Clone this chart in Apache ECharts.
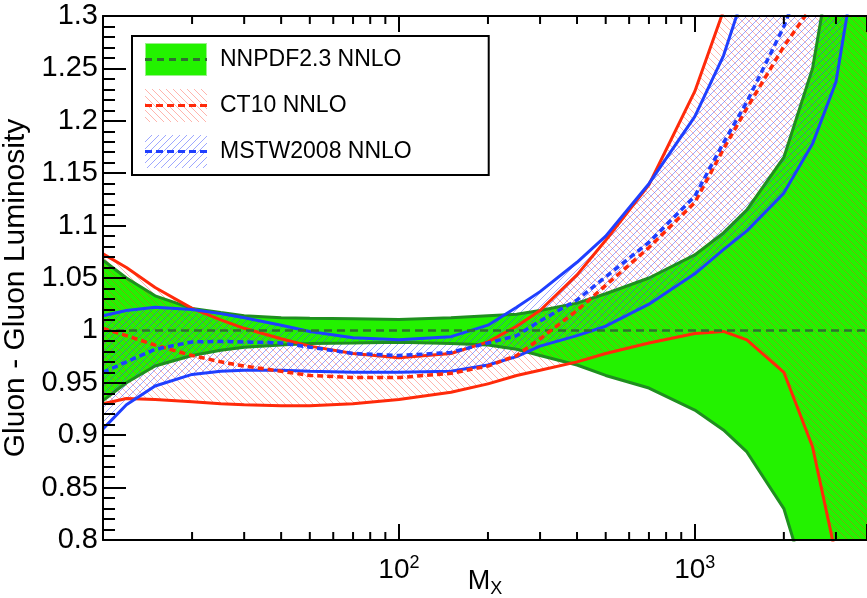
<!DOCTYPE html>
<html>
<head>
<meta charset="utf-8">
<script src="https://cdn.jsdelivr.net/npm/echarts@6/dist/echarts.min.js"></script>
<style>
html, body { margin: 0; padding: 0; background: #fff; }
#chart { width: 867px; height: 598px; }
</style>
</head>
<body>
<div id="chart"></div>
<script>
// M_X grid (GeV), shared by every curve
var mass = [10, 12, 15, 20, 25, 30, 40, 50, 70, 100, 150, 200, 250, 300, 400, 500, 700, 1000, 1250, 1500, 2000, 2500, 3000, 4000];

// NNPDF2.3 NNLO (reference, central = 1)
var nnpdfCentral = [1, 1, 1, 1, 1, 1, 1, 1, 1, 1, 1, 1, 1, 1, 1, 1, 1, 1, 1, 1, 1, 1, 1, 1];
var nnpdfHigh = [1.067, 1.050, 1.033, 1.021, 1.017, 1.014, 1.012, 1.0115, 1.011, 1.0105, 1.012, 1.014, 1.0155, 1.019, 1.026, 1.035, 1.050, 1.072, 1.093, 1.115, 1.165, 1.25, 1.38, 1.6];
var nnpdfLow = [0.933, 0.950, 0.966, 0.976, 0.981, 0.984, 0.986, 0.9875, 0.988, 0.9886, 0.9875, 0.986, 0.982, 0.976, 0.967, 0.957, 0.945, 0.924, 0.905, 0.884, 0.830, 0.74, 0.6, 0.4];

// CT10 NNLO
var ct10Central = [1.002, 0.995, 0.986, 0.976, 0.970, 0.966, 0.961, 0.957, 0.955, 0.955, 0.959, 0.966, 0.976, 0.992, 1.019, 1.043, 1.079, 1.122, 1.173, 1.212, 1.271, 1.31, 1.36, 1.45];
var ct10High = [1.073, 1.060, 1.041, 1.021, 1.010, 1.002, 0.992, 0.985, 0.978, 0.974, 0.978, 0.989, 1.004, 1.019, 1.053, 1.086, 1.139, 1.228, 1.305, 1.44, 1.7, 2.0, 2.3, 3.0];
var ct10Low = [0.930, 0.935, 0.934, 0.932, 0.930, 0.929, 0.928, 0.928, 0.930, 0.934, 0.941, 0.949, 0.957, 0.962, 0.970, 0.978, 0.988, 0.997, 0.999, 0.991, 0.960, 0.889, 0.785, 0.5];

// MSTW2008 NNLO
var mstwCentral = [0.960, 0.970, 0.982, 0.989, 0.9895, 0.989, 0.988, 0.984, 0.978, 0.976, 0.979, 0.988, 0.995, 1.009, 1.029, 1.051, 1.084, 1.128, 1.179, 1.218, 1.29, 1.36, 1.42, 1.55];
var mstwHigh = [1.014, 1.019, 1.022, 1.020, 1.016, 1.012, 1.005, 0.999, 0.993, 0.991, 0.994, 1.005, 1.022, 1.037, 1.065, 1.090, 1.140, 1.204, 1.262, 1.33, 1.5, 1.7, 1.9, 2.3];
var mstwLow = [0.906, 0.929, 0.947, 0.958, 0.961, 0.962, 0.962, 0.961, 0.960, 0.960, 0.961, 0.967, 0.975, 0.985, 0.995, 1.004, 1.025, 1.054, 1.077, 1.095, 1.131, 1.178, 1.237, 1.45];

// axis ranges and log-axis minor tick positions
var xMin = 10, xMax = 3820, yMin = 0.8, yMax = 1.3;
var minorTicks = [20, 30, 40, 50, 60, 70, 80, 90, 200, 300, 400, 500, 600, 700, 800, 900, 2000, 3000];

var FONT = '"Liberation Sans", Arial, Helvetica, sans-serif';
var GREEN = '#23f200', GREEN_EDGE = '#1f8f1f', GREEN_DASH = '#2f7030';
var RED = '#ff2a0a', BLUE = '#1f3fff';

function hatch(color, dir) {
  var s = 7, c = document.createElement('canvas');
  c.width = s; c.height = s;
  var g = c.getContext('2d');
  g.strokeStyle = color; g.lineWidth = 1;
  g.beginPath();
  if (dir > 0) {
    g.moveTo(0, s); g.lineTo(s, 0);
    g.moveTo(-1, 1); g.lineTo(1, -1);
    g.moveTo(s - 1, s + 1); g.lineTo(s + 1, s - 1);
  } else {
    g.moveTo(0, 0); g.lineTo(s, s);
    g.moveTo(-1, s - 1); g.lineTo(1, s + 1);
    g.moveTo(s - 1, -1); g.lineTo(s + 1, 1);
  }
  g.stroke();
  return c;
}
var redHatch = hatch('rgba(255,60,40,0.38)', -1);
var blueHatch = hatch('rgba(60,80,255,0.5)', 1);

function swatch(fill, line, dash, border) {
  var c = document.createElement('canvas');
  c.width = 70; c.height = 33;
  var g = c.getContext('2d');
  g.fillStyle = (fill instanceof HTMLCanvasElement) ? g.createPattern(fill, 'repeat') : fill;
  g.fillRect(0, 0, 62, 33);
  if (border) { g.strokeStyle = border; g.lineWidth = 1; g.strokeRect(0.5, 0.5, 61, 32); }
  g.strokeStyle = line; g.lineWidth = 3; g.setLineDash(dash);
  g.beginPath(); g.moveTo(0, 16.5); g.lineTo(62, 16.5); g.stroke();
  return 'image://' + c.toDataURL();
}

function pairs(ys) {
  return mass.map(function (m, i) { return [m, ys[i]]; });
}

// filled band between lo and hi, drawn as one clipped polygon
function band(lo, hi, fill, z) {
  return {
    type: 'custom', silent: true, z: z, clip: true,
    data: pairs(lo),
    encode: { x: 0, y: 1 },
    renderItem: function (params, api) {
      if (params.dataIndex !== 0) return null;
      var pts = [], i;
      for (i = 0; i < mass.length; i++) pts.push(api.coord([mass[i], hi[i]]));
      for (i = mass.length - 1; i >= 0; i--) pts.push(api.coord([mass[i], lo[i]]));
      var cs = params.coordSys;
      return {
        type: 'polygon', shape: { points: pts }, style: { fill: fill },
        clipPath: { type: 'rect', shape: { x: cs.x, y: cs.y, width: cs.width, height: cs.height } }
      };
    }
  };
}

function curve(name, ys, color, width, type, z) {
  return { type: 'line', name: name, data: pairs(ys), symbol: 'none', silent: true, z: z,
    lineStyle: { color: color, width: width, type: type || 'solid' } };
}

function logLabel(v) {
  var e = Math.log10(v), r = Math.round(e);
  return (Math.abs(e - r) < 1e-6 && r >= 2) ? '{b|10}{sup|' + r + '}' : '';
}

var tickStyle = { color: '#000', width: 2 };

var chart = echarts.init(document.getElementById('chart'));
chart.setOption({
  animation: false,
  grid: { left: 103, right: 0, top: 16, bottom: 58, outerBoundsMode: 'none', containLabel: false },
  legend: {
    orient: 'vertical', left: 132, top: 36, z: 20,
    padding: [7, 77, 7, 13],
    itemWidth: 70, itemHeight: 33, itemGap: 13,
    borderColor: '#000', borderWidth: 2, backgroundColor: '#fff',
    selectedMode: false,
    textStyle: { fontSize: 23, color: '#000', fontFamily: FONT },
    data: [
      { name: 'NNPDF2.3 NNLO', icon: swatch(GREEN, GREEN_DASH, [7, 5], '#9af08a') },
      { name: 'CT10 NNLO', icon: swatch(redHatch, RED, [7, 4]) },
      { name: 'MSTW2008 NNLO', icon: swatch(blueHatch, BLUE, [7, 4]) }
    ]
  },
  xAxis: [
    {
      type: 'log', min: xMin, max: xMax, z: 10, position: 'bottom',
      splitLine: { show: false },
      axisLine: { show: true, lineStyle: tickStyle },
      name: '{m|M}{sub|X}', nameLocation: 'middle', nameGap: 26, nameMoveOverlap: false,
      nameTextStyle: { rich: {
        m: { fontSize: 27, fontFamily: FONT, color: '#000' },
        sub: { fontSize: 18, fontFamily: FONT, color: '#000', padding: [14, 0, 0, 0] }
      } },
      axisTick: { inside: true, length: 16, lineStyle: tickStyle },
      axisLabel: { margin: 14, formatter: logLabel, rich: {
        b: { fontSize: 28, fontFamily: FONT, color: '#000' },
        sup: { fontSize: 18, fontFamily: FONT, color: '#000', padding: [0, 0, 14, 0] }
      } }
    },
    {
      type: 'log', min: xMin, max: xMax, z: 10, position: 'top',
      splitLine: { show: false },
      axisLine: { show: true, lineStyle: tickStyle },
      axisTick: { inside: true, length: 16, lineStyle: tickStyle },
      axisLabel: { show: false }
    }
  ],
  yAxis: {
    type: 'value', min: yMin, max: yMax, interval: 0.05, z: 10,
    name: 'Gluon - Gluon Luminosity', nameLocation: 'middle', nameGap: 68,
    nameTextStyle: { fontSize: 30, color: '#000', fontFamily: FONT, padding: [0, 20, 0, 0] },
    axisLine: { show: true, lineStyle: tickStyle },
    axisTick: { inside: true, length: 23, lineStyle: tickStyle },
    minorTick: { show: true, splitNumber: 5, length: 12, lineStyle: tickStyle },
    axisLabel: { fontSize: 29, color: '#000', fontFamily: FONT, margin: 5 },
    splitLine: { show: false }
  },
  series: [
    band(nnpdfLow, nnpdfHigh, GREEN, 1),
    band(ct10Low, ct10High, { image: redHatch, repeat: 'repeat' }, 2),
    band(mstwLow, mstwHigh, { image: blueHatch, repeat: 'repeat' }, 3),
    curve('nnpdf-hi', nnpdfHigh, GREEN_EDGE, 3, 'solid', 4),
    curve('nnpdf-lo', nnpdfLow, GREEN_EDGE, 3, 'solid', 4),
    curve('ct10-hi', ct10High, RED, 3, 'solid', 5),
    curve('ct10-lo', ct10Low, RED, 3, 'solid', 5),
    curve('mstw-hi', mstwHigh, BLUE, 3, 'solid', 5),
    curve('mstw-lo', mstwLow, BLUE, 3, 'solid', 5),
    curve('NNPDF2.3 NNLO', nnpdfCentral, GREEN_DASH, 2.5, [8, 5], 6),
    curve('CT10 NNLO', ct10Central, RED, 3.5, [6, 4], 6),
    curve('MSTW2008 NNLO', mstwCentral, BLUE, 3.5, [6, 4], 6),
    {
      // minor log ticks on bottom and top frame
      type: 'custom', silent: true, z: 10, clip: false,
      data: minorTicks.map(function (m) { return [m, yMin]; }),
      encode: { x: 0, y: 1 },
      renderItem: function (params, api) {
        var b = api.coord([api.value(0), yMin]), t = api.coord([api.value(0), yMax]);
        return { type: 'group', children: [
          { type: 'line', shape: { x1: b[0], y1: b[1], x2: b[0], y2: b[1] - 8 }, style: { stroke: '#000', lineWidth: 2 } },
          { type: 'line', shape: { x1: t[0], y1: t[1], x2: t[0], y2: t[1] + 8 }, style: { stroke: '#000', lineWidth: 2 } }
        ] };
      }
    }
  ]
});
</script>
</body>
</html>
